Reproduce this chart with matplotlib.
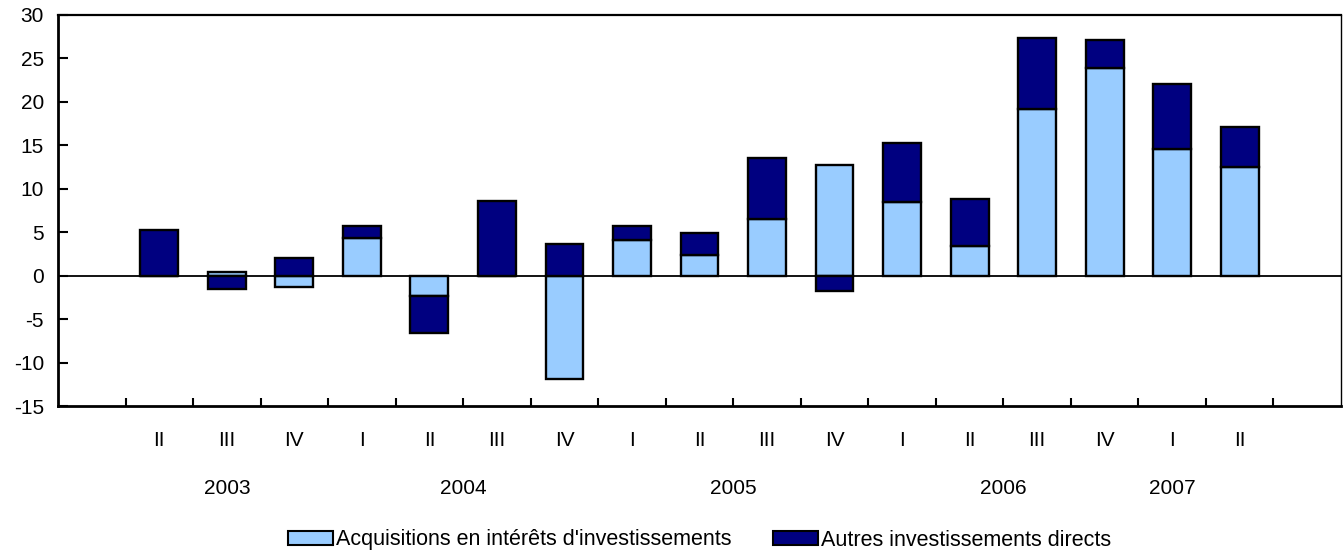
import matplotlib
matplotlib.use("Agg")
import matplotlib.pyplot as plt
import numpy as np
from matplotlib.patches import Patch

quarters = ["II", "III", "IV", "I", "II", "III", "IV", "I", "II", "III", "IV",
            "I", "II", "III", "IV", "I", "II"]
acquisitions = [0.0, 0.4, -1.35, 4.3, -2.3, 0.0, -11.85, 4.1, 2.35, 6.55, 12.7,
                8.5, 3.4, 19.2, 23.9, 14.6, 12.5]
autres = [5.25, -1.5, 2.0, 1.4, -4.3, 8.6, 3.6, 1.6, 2.55, 7.0, -1.8,
          6.8, 5.4, 8.1, 3.2, 7.5, 4.65]
years = ["2003", "2004", "2005", "2006", "2007"]
year_pos = [2.0, 5.5, 9.5, 13.5, 16.0]
legend_labels = ["Acquisitions en intérêts d'investissements", "Autres investissements directs"]

light = "#99CCFF"
dark = "#000080"

plt.rcParams['font.family'] = ['Liberation Sans', 'DejaVu Sans']
plt.rcParams['axes.unicode_minus'] = False

FS = 15

fig = plt.figure(figsize=(13.43, 5.53), dpi=100)
ax = fig.add_axes([58/1343, 1-406/553, (1341-58)/1343, (406-15)/553])

x = np.arange(1, len(quarters) + 1)
acq = np.array(acquisitions)
aut = np.array(autres)
w = 0.56
ax.bar(x, acq, w, color=light, edgecolor='black', linewidth=1.7, zorder=3)
bottom = np.where(np.sign(aut) == np.sign(acq), acq, 0.0)
ax.bar(x, aut, w, bottom=bottom, color=dark, edgecolor='black', linewidth=1.7, zorder=3)

ax.axhline(0, color='black', linewidth=1.3, zorder=4)
ax.set_xlim(-0.5, len(quarters) + 1.5)
ax.set_ylim(-15, 30)
ax.set_yticks(np.arange(-15, 31, 5))
ax.set_xticks(np.arange(0.5, len(quarters) + 1, 1.0))
ax.set_xticklabels([])
ax.tick_params(axis='x', direction='in', length=6, width=1.5, color='black')
ax.tick_params(axis='y', direction='in', length=7, width=1.5, labelsize=FS, pad=10)
ax.spines['left'].set_linewidth(2)
ax.spines['bottom'].set_linewidth(2)
ax.spines['top'].set_linewidth(1.6)
ax.spines['right'].set_linewidth(1.0)

trans = ax.get_xaxis_transform()
for xi, q in zip(x, quarters):
    ax.text(xi, -0.087, q, transform=trans, ha='center', va='center', fontsize=FS)
for yp, yl in zip(year_pos, years):
    ax.text(yp, -0.21, yl, transform=trans, ha='center', va='center', fontsize=FS)

handles = [Patch(facecolor=light, edgecolor='black', linewidth=1.5),
           Patch(facecolor=dark, edgecolor='black', linewidth=1.5)]
fig.legend(handles, legend_labels, loc='center', bbox_to_anchor=(699.5/1343, 1-540/553),
           ncol=2, frameon=False, fontsize=15.5, handlelength=2.1, handleheight=0.6,
           handletextpad=0.15, columnspacing=1.9, borderpad=0.2)

fig.savefig("out.png", dpi=100)
